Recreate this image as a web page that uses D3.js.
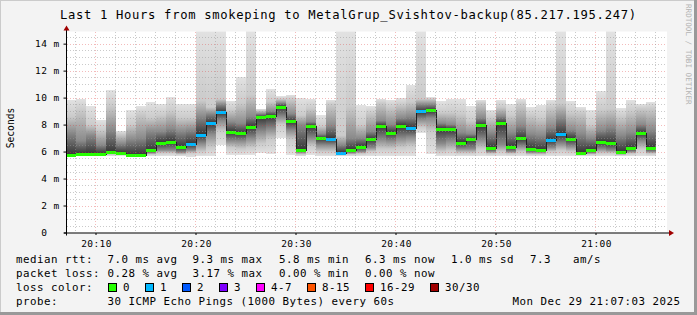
<!DOCTYPE html>
<html>
<head>
<meta charset="utf-8">
<script src="https://cdn.jsdelivr.net/npm/d3@7"></script>
<style>
  body { margin: 0; background: #f3f3f3; }
  svg { display: block; }
  text { font-family: "DejaVu Sans Mono", monospace; white-space: pre; }
</style>
</head>
<body>
<svg id="chart" width="697" height="315"></svg>
<script>
// ---- data (values in ms) ----
// one bar per minute, first bar starts at 20:07
const pingMedian = [5.78,5.85,5.85,5.83,5.97,5.90,5.78,5.78,6.08,6.67,6.74,6.31,6.57,7.26,8.10,8.92,7.47,7.36,7.85,8.55,
  8.63,9.34,8.24,6.13,7.90,6.99,6.96,5.92,6.13,6.37,6.92,7.90,7.41,7.90,7.75,8.97,9.05,7.70,7.66,6.67,
  6.92,7.95,6.26,8.10,6.33,6.97,6.18,6.10,6.87,7.28,6.96,5.93,6.13,6.71,6.62,6.00,6.23,7.36,6.26];
const pingLoss = [0,0,0,0,0,0,0,0,0,0,0,0,1,1,1,1,0,0,0,0,
  0,0,0,0,0,0,1,1,0,0,0,0,0,0,1,1,0,0,0,0,
  0,0,0,0,0,0,0,0,1,1,0,0,0,0,0,0,0,0,0];
const pingMax = [9.85,9.93,9.36,8.37,10.55,7.56,9.06,9.36,9.68,9.53,10.05,9.53,9.53,15,15,15,9.78,11.51,15,9.19,
  10.64,10.10,10.22,9.98,9.93,8.69,9.85,15,15,9.43,9.36,9.93,9.85,9.98,10.96,15,10.03,9.73,9.93,9.90,
  9.36,9.85,9.11,9.85,9.53,9.90,9.29,9.48,9.85,15,9.78,9.31,9.06,10.52,15,9.24,9.85,9.53,9.68];
const pingHi2 = [8.6,9.1,8.0,7.6,9.4,7.3,8.0,8.8,8.5,8.7,9.0,8.5,8.5,9.8,9.3,9.9,9.1,9.6,10.2,9.05,
  9.7,9.9,9.9,8.7,9.2,7.9,9.5,7.2,9.4,8.0,8.9,9.6,9.3,9.5,9.7,9.9,9.9,8.9,8.9,8.8,
  8.3,9.6,8.5,9.3,8.7,9.5,8.7,8.5,9.3,9.6,8.9,8.9,8.0,9.1,9.2,8.6,9.0,9.2,9.2];
const pingHi1 = [7.4,6.8,7.2,6.5,7.6,6.6,6.9,7.0,7.5,7.5,7.7,7.5,7.6,8.6,8.8,9.5,8.2,8.1,8.6,8.8,
  9.0,9.6,8.8,8.0,8.2,7.3,7.9,6.5,7.0,7.0,7.5,8.3,8.0,8.5,8.6,9.5,9.5,8.1,8.0,7.4,
  7.3,8.5,7.4,8.6,7.4,7.9,7.3,7.2,7.8,8.5,7.6,7.3,7.0,7.6,7.8,7.2,7.4,8.0,7.6];
const pingLo1 = [5.74,5.80,5.80,5.78,5.85,5.82,5.74,5.74,5.90,6.10,6.10,5.95,6.10,6.60,7.30,8.30,6.80,6.80,7.00,7.50,
  7.70,8.60,7.60,5.95,7.00,6.50,6.50,5.80,5.90,6.00,6.30,6.90,6.80,7.00,7.10,8.40,8.50,6.60,6.80,6.20,
  6.20,6.90,6.00,6.50,6.00,6.40,5.95,5.95,6.30,6.60,6.40,5.80,5.90,6.20,6.10,5.85,6.00,6.80,6.00];
const pingLo2 = [5.70,5.75,5.75,5.73,5.78,5.76,5.70,5.70,5.80,5.90,5.90,5.80,5.90,6.00,6.30,7.50,6.30,6.20,6.30,6.60,
  6.90,8.00,6.90,5.80,6.40,6.00,6.00,5.75,5.80,5.85,6.00,6.20,6.20,6.30,6.40,7.80,7.50,6.00,6.10,5.90,
  5.90,6.20,5.85,6.00,5.85,6.00,5.80,5.80,6.00,6.10,6.00,5.75,5.80,5.90,5.90,5.75,5.85,6.20,5.85];
const pingMin = [5.65,5.66,5.66,5.66,5.66,5.70,5.66,5.66,5.66,5.66,5.68,5.66,5.60,5.66,5.66,6.50,5.75,5.73,5.78,5.90,
  5.80,7.00,5.75,5.66,5.78,5.66,5.66,5.66,5.66,5.68,5.66,5.66,5.66,5.66,5.66,7.40,5.80,5.66,5.66,5.66,
  5.66,5.66,5.66,5.66,5.66,5.66,5.66,5.66,5.66,5.66,5.66,5.66,5.66,5.66,5.66,5.66,5.66,5.66,5.66];

const yTicks = [0, 2, 4, 6, 8, 10, 12, 14];
const lossLabels = ["0", "1", "2", "3", "4-7", "8-15", "16-29", "30/30"];
const lossColors = ["#26ff00", "#00b8ff", "#0059ff", "#7e00ff", "#ff00ff", "#ff5500", "#ff0000", "#a00000"];

const titleText = "Last 1 Hours from smokeping to MetalGrup_Svishtov-backup(85.217.195.247)";
const rttItems = ["median rtt:", "7.0 ms avg", "9.3 ms max", "5.8 ms min", "6.3 ms now", "1.0 ms sd", "7.3", "am/s"];
const lossItems = ["packet loss:", "0.28 % avg", "3.17 % max", "0.00 % min", "0.00 % now"];
const probeText = "30 ICMP Echo Pings (1000 Bytes) every 60s";
const stampText = "Mon Dec 29 21:07:03 2025";

// ---- layout ----
const svg = d3.select("#chart");
const W = 697, H = 315;
const plot = { left: 67, right: 667, top: 31.5, bottom: 232.5 };

const t0 = new Date(2025, 11, 29, 20, 7, 6);
const t1 = new Date(2025, 11, 29, 21, 7, 6);
const barStart = new Date(2025, 11, 29, 20, 7, 0);

const x = d3.scaleTime().domain([t0, t1]).range([plot.left, plot.right]);
const y = d3.scaleLinear().domain([0, 14.9]).range([plot.bottom, plot.top]);

const bars = pingMedian.map((m, i) => ({
  i: i,
  t: d3.timeMinute.offset(barStart, i),
  t2: d3.timeMinute.offset(barStart, i + 1),
  med: m, loss: pingLoss[i],
  max: pingMax[i], hi2: pingHi2[i], hi1: pingHi1[i],
  lo1: pingLo1[i], lo2: pingLo2[i], min: pingMin[i]
}));

// background + plot area
svg.append("rect").attr("width", W).attr("height", H).attr("fill", "#f3f3f3");
svg.append("rect")
  .attr("x", plot.left).attr("y", plot.top)
  .attr("width", plot.right - plot.left).attr("height", plot.bottom - plot.top)
  .attr("fill", "#ffffff");

const defs = svg.append("defs");
defs.append("clipPath").attr("id", "plotclip")
  .append("rect")
  .attr("x", plot.left).attr("y", plot.top)
  .attr("width", plot.right - plot.left).attr("height", plot.bottom - plot.top);

// smoke: one vertical gradient per bar, darkest at the median
const smokeStops = [
  ["max", "#e2e2e2"], ["hi2", "#cbcbcb"], ["hi1", "#8a8a8a"], ["med", "#363636"],
  ["lo1", "#8a8a8a"], ["lo2", "#cbcbcb"], ["min", "#e2e2e2"]
];
const grads = defs.selectAll("linearGradient")
  .data(bars)
  .join("linearGradient")
  .attr("id", d => "smoke" + d.i)
  .attr("gradientUnits", "userSpaceOnUse")
  .attr("x1", 0).attr("x2", 0)
  .attr("y1", d => y(d.max)).attr("y2", d => y(d.min));
grads.each(function(d) {
  const top = y(d.max), span = y(d.min) - y(d.max);
  d3.select(this).selectAll("stop")
    .data(smokeStops)
    .join("stop")
    .attr("offset", s => Math.max(0, Math.min(1, (y(d[s[0]]) - top) / span)))
    .attr("stop-color", s => s[1]);
});

const g = svg.append("g").attr("clip-path", "url(#plotclip)");

g.append("g").selectAll("rect")
  .data(bars)
  .join("rect")
  .attr("shape-rendering", "crispEdges")
  .attr("x", d => x(d.t))
  .attr("width", d => x(d.t2) - x(d.t))
  .attr("y", d => y(d.max))
  .attr("height", d => y(d.min) - y(d.max))
  .attr("fill", d => `url(#smoke${d.i})`);

// median step line
const stepPts = bars.map(d => [d.t, d.med]);
stepPts.push([bars[bars.length - 1].t2, bars[bars.length - 1].med]);
g.append("path")
  .datum(stepPts)
  .attr("fill", "none")
  .attr("stroke", "#202020")
  .attr("stroke-width", 1)
  .attr("shape-rendering", "crispEdges")
  .attr("d", d3.line().x(d => x(d[0])).y(d => Math.round(y(d[1])) + 0.5).curve(d3.curveStepAfter));

// coloured median marks by loss
g.append("g").selectAll("rect")
  .data(bars)
  .join("rect")
  .attr("shape-rendering", "crispEdges")
  .attr("x", d => x(d.t))
  .attr("width", d => x(d.t2) - x(d.t))
  .attr("y", d => Math.round(y(d.med)) - 1)
  .attr("height", 3)
  .attr("fill", d => lossColors[d.loss]);

// grid on top
const grid = svg.append("g").attr("shape-rendering", "crispEdges");
const minorY = d3.range(0.5, 15, 0.5).filter(v => v % 2 !== 0);
grid.selectAll(".hmin").data(minorY).join("line")
  .attr("x1", plot.left).attr("x2", plot.right)
  .attr("y1", d => Math.round(y(d)) + 0.5).attr("y2", d => Math.round(y(d)) + 0.5)
  .attr("stroke", "rgba(150,150,150,0.5)").attr("stroke-dasharray", "1,2");
grid.selectAll(".hmaj").data(yTicks.slice(1)).join("line")
  .attr("x1", plot.left).attr("x2", plot.right)
  .attr("y1", d => Math.round(y(d)) + 0.5).attr("y2", d => Math.round(y(d)) + 0.5)
  .attr("stroke", "rgba(220,60,60,0.35)").attr("stroke-dasharray", "1,2");

const minorX = d3.timeMinute.every(2).range(t0, t1).filter(d => d.getMinutes() % 10 !== 0);
const majorX = d3.timeMinute.every(10).range(t0, t1);
grid.selectAll(".vmin").data(minorX).join("line")
  .attr("x1", d => Math.round(x(d)) - 0.5).attr("x2", d => Math.round(x(d)) - 0.5)
  .attr("y1", plot.top).attr("y2", plot.bottom)
  .attr("stroke", "rgba(150,150,150,0.5)").attr("stroke-dasharray", "1,2");
grid.selectAll(".vmaj").data(majorX).join("line")
  .attr("x1", d => Math.round(x(d)) - 0.5).attr("x2", d => Math.round(x(d)) - 0.5)
  .attr("y1", plot.top).attr("y2", plot.bottom)
  .attr("stroke", "rgba(220,60,60,0.35)").attr("stroke-dasharray", "1,2");

// axes
const xAxis = d3.axisBottom(x)
  .ticks(d3.timeMinute.every(10))
  .tickFormat(d3.timeFormat("%H:%M"))
  .tickSize(2).tickPadding(5);
const gx = svg.append("g").attr("transform", `translate(0,${plot.bottom + 0.5})`).call(xAxis);
gx.select(".domain").remove();
gx.selectAll(".tick line").attr("stroke", "#000").attr("transform", "translate(-0.5,0)");
gx.selectAll(".tick text")
  .attr("font-family", "DejaVu Sans Mono").attr("font-size", 9.5)
  .attr("letter-spacing", 0.38).attr("fill", "#000");

const yAxis = d3.axisLeft(y)
  .tickValues(yTicks)
  .tickFormat(d => d === 0 ? "0\u00a0\u00a0" : d + " m")
  .tickSize(3).tickPadding(4);
const gy = svg.append("g").attr("transform", `translate(${plot.left - 0.5},0)`).call(yAxis);
gy.select(".domain").remove();
gy.selectAll(".tick line").attr("stroke", "#000");
gy.selectAll(".tick text")
  .attr("font-family", "DejaVu Sans Mono").attr("font-size", 9.5)
  .attr("letter-spacing", 0.38).attr("fill", "#000");

// axis lines with arrows
svg.append("line")
  .attr("x1", plot.left - 0.5).attr("x2", plot.left - 0.5)
  .attr("y1", plot.bottom + 3).attr("y2", plot.top - 3)
  .attr("stroke", "#000");
svg.append("line")
  .attr("x1", plot.left - 3).attr("x2", plot.right + 3)
  .attr("y1", plot.bottom + 0.5).attr("y2", plot.bottom + 0.5)
  .attr("stroke", "#000");
svg.append("path")
  .attr("d", `M${plot.left - 3.5},${plot.top - 1} L${plot.left - 0.5},${plot.top - 6} L${plot.left + 2.5},${plot.top - 1} Z`)
  .attr("fill", "#a00000");
svg.append("path")
  .attr("d", `M${plot.right + 2},${plot.bottom - 2.5} L${plot.right + 7},${plot.bottom + 0.5} L${plot.right + 2},${plot.bottom + 3.5} Z`)
  .attr("fill", "#a00000");

// texts
svg.append("text")
  .attr("x", 60).attr("y", 18.5)
  .attr("font-size", 12.2)
  .attr("textLength", 576).attr("lengthAdjust", "spacing")
  .text(titleText);

svg.append("text")
  .attr("transform", `translate(13.5,128) rotate(-90)`)
  .attr("text-anchor", "middle").attr("font-size", 9.6)
  .text("Seconds");

svg.append("text")
  .attr("transform", `translate(686,4) rotate(90)`)
  .attr("font-size", 7.6).attr("fill", "#b4b4b4")
  .text("RRDTOOL / TOBI OETIKER");

const legendFont = { size: 10.8, ls: 0.5 };
const rttX = [16, 107.5, 192.5, 279, 365, 451, 530, 573];
rttItems.forEach((s, i) => {
  svg.append("text").attr("x", rttX[i]).attr("y", 262.5)
    .attr("font-size", legendFont.size).attr("letter-spacing", legendFont.ls).text(s);
});
const lossX = [16, 107.5, 192.5, 279, 365];
lossItems.forEach((s, i) => {
  svg.append("text").attr("x", lossX[i]).attr("y", 276.5)
    .attr("font-size", legendFont.size).attr("letter-spacing", legendFont.ls).text(s);
});

svg.append("text").attr("x", 16).attr("y", 290.5)
  .attr("font-size", legendFont.size).attr("letter-spacing", legendFont.ls).text("loss color:");
let bx = 108;
lossLabels.forEach((lab, i) => {
  svg.append("rect")
    .attr("x", bx + 0.5).attr("y", 283.5).attr("width", 8).attr("height", 8)
    .attr("fill", lossColors[i]).attr("stroke", "#000").attr("stroke-width", 1);
  svg.append("text").attr("x", bx + 15).attr("y", 290.5)
    .attr("font-size", legendFont.size).attr("letter-spacing", legendFont.ls).text(lab);
  bx += 30 + 7 * lab.length;
});

svg.append("text").attr("x", 16).attr("y", 304.5)
  .attr("font-size", legendFont.size).attr("letter-spacing", legendFont.ls).text("probe:");
svg.append("text").attr("x", 107.5).attr("y", 304.5)
  .attr("font-size", legendFont.size).attr("letter-spacing", legendFont.ls).text(probeText);
svg.append("text").attr("x", 680.5).attr("y", 304.5).attr("text-anchor", "end")
  .attr("font-size", legendFont.size).attr("letter-spacing", legendFont.ls).text(stampText);

// outer frame shading
svg.append("line").attr("x1", 0).attr("x2", W).attr("y1", 0.5).attr("y2", 0.5).attr("stroke", "#cbcbcb");
svg.append("line").attr("x1", 0.5).attr("x2", 0.5).attr("y1", 0).attr("y2", H).attr("stroke", "#cbcbcb");
svg.append("rect").attr("x", W - 3).attr("y", 0).attr("width", 3).attr("height", H).attr("fill", "#999999");
svg.append("rect").attr("x", 0).attr("y", H - 3).attr("width", W).attr("height", 3).attr("fill", "#999999");
</script>
</body>
</html>
